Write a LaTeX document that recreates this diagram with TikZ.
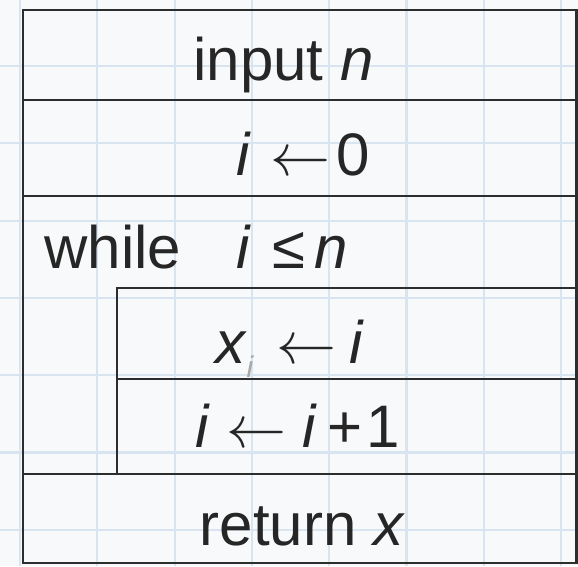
\documentclass[tikz,border=0pt]{standalone}
\usepackage{fontspec}
\usepackage{graphicx}
\setmainfont{Liberation Sans}
\newcommand{\bigleftarrow}{\scalebox{6}{\fontsize{10}{12}\selectfont$\leftarrow$}}
\begin{document}
\begin{tikzpicture}[x=1pt,y=-1pt,
  gridline/.style={draw=gridblue,line width=2.2pt},
  frame/.style={draw=framegray,line width=2.6pt},
  txt/.style={anchor=base,inner sep=0pt,text=textgray,font=\fontsize{60}{72}\selectfont},
  subtxt/.style={anchor=base,inner sep=0pt,text=textgray!40,font=\fontsize{30}{36}\selectfont\itshape}]
\definecolor{gridblue}{RGB}{216,228,240}
\definecolor{framegray}{RGB}{45,45,45}
\definecolor{textgray}{RGB}{38,38,38}
\definecolor{bg}{RGB}{248,249,250}
\useasboundingbox (0,0) rectangle (578,566);
\fill[bg] (0,0) rectangle (578,566);
% grid
\foreach \gx in {20,97.3,174.6,251.9,329.2,406.5,483.8,561.1}
  \draw[gridline] (\gx,0) -- (\gx,566);
\foreach \gy in {66,143.3,220.6,297.9,375.2,452.5,529.8}
  \draw[gridline] (0,\gy) -- (578,\gy);
% frame coordinates
\coordinate (tl) at (23,10);
\coordinate (tr) at (576.5,10);
\coordinate (bl) at (23,563);
\coordinate (br) at (576.5,563);
\coordinate (l1) at (23,100);   \coordinate (r1) at (576.5,100);
\coordinate (l2) at (23,196);   \coordinate (r2) at (576.5,196);
\coordinate (l3) at (23,474);   \coordinate (r3) at (576.5,474);
\coordinate (it) at (117,288);  \coordinate (itr) at (576.5,288);
\coordinate (im) at (117,379);  \coordinate (imr) at (576.5,379);
\coordinate (ib) at (117,474);
\draw[frame] (tl) -- (tr) -- (br) -- (bl) -- cycle;
\draw[frame] (l1) -- (r1);
\draw[frame] (l2) -- (r2);
\draw[frame] (l3) -- (r3);
\draw[frame] (itr) -- (it) -- (ib);
\draw[frame] (im) -- (imr);
% texts
\node[txt] (t1) at (283.5,80) {input \textit{n}};
\node[txt] (t2a) at (244,175) {\textit{i}};
\node[txt] (t2b) at (300,175) {\bigleftarrow};
\node[txt] (t2c) at (353,175) {0};
\node[txt] (t3a) at (113,268) {while};
\node[txt] (t3b) at (244,268) {\textit{i}};
\node[txt] (t3c) at (288.5,268) {≤};
\node[txt] (t3d) at (331.5,268) {\textit{n}};
\node[txt] (t4a) at (231,363) {\textit{x}};
\node[subtxt] (t4s) at (250,377) {i};
\node[txt] (t4b) at (306,363) {\bigleftarrow};
\node[txt] (t4c) at (357,363) {\textit{i}};
\node[txt] (t5a) at (203,447) {\textit{i}};
\node[txt] (t5b) at (256.5,447) {\bigleftarrow};
\node[txt] (t5c) at (310,447) {\textit{i}};
\node[txt] (t5d) at (345,447) {+};
\node[txt] (t5e) at (383.5,447) {1};
\node[txt] (t6) at (302.5,545) {return \textit{x}};
\end{tikzpicture}
\end{document}
